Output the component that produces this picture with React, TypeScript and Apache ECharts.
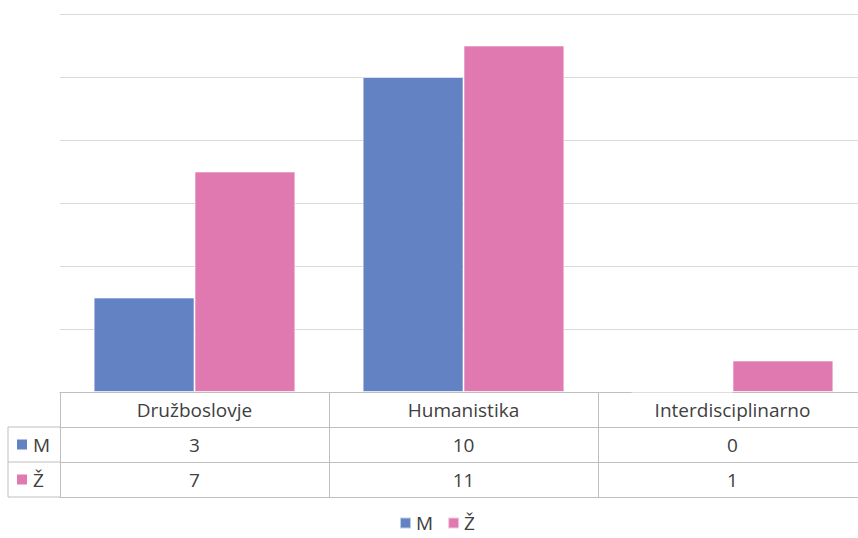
import React, { useEffect, useRef } from "react";
import * as echarts from "echarts";

const categories = ["Družboslovje", "Humanistika", "Interdisciplinarno"];
const seriesNames = ["M", "Ž"];
const mValues = [3, 10, 0];
const zValues = [7, 11, 1];
const colors = ["#6282C4", "#DF79AF"];

const FONT = "'Open Sans', 'Noto Sans', sans-serif";
const FS = 19;
const TEXT = "#404040";
const TABLE_LINE = "#BFBFBF";
const GRID_LINE = "#D9D9D9";

const CHART_W = 874;
const GL = 60;
const GT = 14;
const GR = 7;
const GH = 378;
const ROW = 35;

export default function App() {
  const ref = useRef<HTMLDivElement>(null);
  useEffect(() => {
    document.body.style.margin = "0";
    if (!ref.current) return;
    const chart = echarts.init(ref.current, null, { renderer: "svg" });
    const tableBottom = GT + GH + ROW * 3;
    const rowValues = [mValues, zValues];
    const labelCommon = {
      fontFamily: FONT,
      fontSize: FS,
      color: TEXT,
      margin: 8,
    };
    const xBase = {
      type: "category" as const,
      data: categories,
      gridIndex: 0,
      position: "bottom" as const,
      axisLine: { show: true, lineStyle: { color: TABLE_LINE, width: 1 } },
      axisTick: { show: false },
    };
    const graphic: any[] = [
      {
        type: "line",
        shape: { x1: 8, y1: GT + GH + ROW, x2: 8, y2: tableBottom },
        style: { stroke: TABLE_LINE, lineWidth: 1 },
      },
    ];
    for (let r = 1; r <= 3; r++) {
      graphic.push({
        type: "line",
        shape: { x1: 8, y1: GT + GH + ROW * r, x2: GL, y2: GT + GH + ROW * r },
        style: { stroke: TABLE_LINE, lineWidth: 1 },
      });
    }
    seriesNames.forEach((n, i) => {
      const cy = GT + GH + ROW * (i + 1) + ROW / 2;
      graphic.push({
        type: "rect",
        shape: { x: 17, y: cy - 5, width: 10, height: 10 },
        style: { fill: colors[i] },
      });
      graphic.push({
        type: "text",
        x: 33,
        y: cy,
        style: {
          text: n,
          fill: TEXT,
          font: `${FS}px ${FONT}`,
          verticalAlign: "middle",
          align: "left",
        },
      });
    });

    chart.setOption({
      animation: false,
      grid: { left: GL, top: GT, right: GR, height: GH, containLabel: false },
      yAxis: {
        type: "value",
        min: 0,
        max: 12,
        interval: 2,
        axisLabel: { show: false },
        axisLine: { show: false },
        axisTick: { show: false },
        splitLine: { show: true, lineStyle: { color: GRID_LINE, width: 1 } },
      },
      xAxis: [
        {
          ...xBase,
          axisTick: {
            show: true,
            length: ROW * 3,
            lineStyle: { color: TABLE_LINE, width: 1 },
          },
          axisLabel: { ...labelCommon },
        },
        ...rowValues.map((vals, i) => ({
          ...xBase,
          offset: ROW * (i + 1),
          axisLabel: {
            ...labelCommon,
            formatter: (_v: string, idx: number) => String(vals[idx]),
          },
        })),
        {
          ...xBase,
          offset: ROW * 3,
          axisLabel: { show: false },
        },
      ],
      legend: {
        data: seriesNames,
        top: 510,
        left: "center",
        padding: 2,
        itemWidth: 11,
        itemHeight: 11,
        itemGap: 14,
        icon: "rect",
        textStyle: { fontFamily: FONT, fontSize: FS, color: TEXT, lineHeight: 22 },
      },
      series: seriesNames.map((name, i) => ({
        name,
        type: "bar",
        data: i === 0 ? mValues : zValues,
        xAxisIndex: 0,
        barGap: "0%",
        barCategoryGap: "25%",
        itemStyle: {
          color: colors[i],
          borderColor: "rgba(255,255,255,0.6)",
          borderWidth: 1,
        },
      })),
      graphic,
    });
    return () => chart.dispose();
  }, []);
  return (
    <div style={{ width: 858, height: 538, overflow: "hidden" }}>
      <div ref={ref} style={{ width: CHART_W, height: 538 }} />
    </div>
  );
}
